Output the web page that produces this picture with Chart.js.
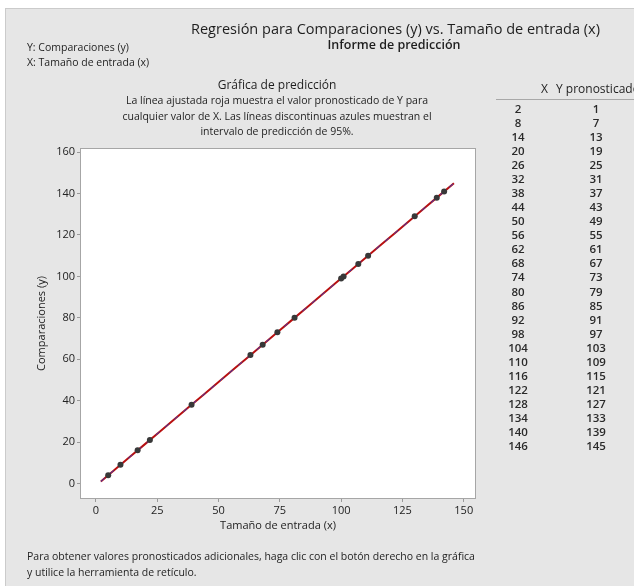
<!DOCTYPE html>
<html lang="es">
<head>
<meta charset="utf-8">
<title>Regresión para Comparaciones (y) vs. Tamaño de entrada (x)</title>
<script src="https://cdn.jsdelivr.net/npm/chart.js@4/dist/chart.umd.min.js"></script>
<style>
  html, body { margin: 0; padding: 0; background: #ffffff; }
  body { width: 634px; height: 586px; position: relative; overflow: hidden;
         font-family: "Open Sans", "Noto Sans", sans-serif; color: #1e1e1e; }
  #panel { position: absolute; left: 5px; top: 8px; width: 629px; height: 578px;
           background: #e6e6e6; border-top: 1px solid #cbcbcb; border-left: 1px solid #cbcbcb;
           box-sizing: border-box; }
  #chart { position: absolute; left: 0; top: 0; }
  .t { position: absolute; white-space: nowrap; }
  .c { text-align: center; }
  #table { position: absolute; left: 496px; top: 81px; width: 138px; height: 380px; }
  #table .rule { position: absolute; left: 0; top: 18px; width: 138px; height: 1px; background: #a8a8a8; }
  .row { position: absolute; font-size: 11.5px; line-height: 14px; font-weight: 600; color: #2a2a2a; text-align: center; width: 40px; }
  .xcol { left: 2px; }
  .ycol { left: 80px; }
</style>
</head>
<body>
<div id="panel"></div>
<canvas id="chart" width="634" height="586"></canvas>

<div class="t c" style="left:183px; width:425px; top:19px; font-size:14.5px; line-height:20px;">Regresión para Comparaciones (y) vs. Tamaño de entrada (x)</div>
<div class="t c" style="left:294px; width:200px; top:36px; font-size:12.5px; line-height:18px; font-weight:600;">Informe de predicción</div>
<div class="t" style="left:27px; top:40px; font-size:10.5px; line-height:15px;">Y: Comparaciones (y)<br>X: Tamaño de entrada (x)</div>

<div class="t c" style="left:127px; width:300px; top:76px; font-size:12px; line-height:18px;">Gráfica de predicción</div>
<div class="t c" style="left:97px; width:360px; top:93px; font-size:10.5px; line-height:15.5px;">La línea ajustada roja muestra el valor pronosticado de Y para<br>cualquier valor de X. Las líneas discontinuas azules muestran el<br>intervalo de predicción de 95%.</div>

<div id="table">
  <div class="t" style="left:45px; top:0px; font-size:12px; line-height:16px;">X</div>
  <div class="t" style="left:60px; top:0px; font-size:12px; line-height:16px;">Y pronosticado</div>
  <div class="rule"></div>
</div>

<div class="t" style="left:27px; top:548px; font-size:10.5px; line-height:16px;">Para obtener valores pronosticados adicionales, haga clic con el botón derecho en la gráfica<br>y utilice la herramienta de retículo.</div>

<script>
// Observed data: input size vs. number of comparisons
const obsX = [5, 10, 17, 22, 39, 63, 68, 74, 81, 100, 101, 107, 111, 130, 139, 142];
const obsY = [4, 9, 16, 21, 38, 62, 67, 73, 80, 99, 100, 106, 110, 129, 138, 141];

// Prediction table: X values and fitted Y
const predX = [2, 8, 14, 20, 26, 32, 38, 44, 50, 56, 62, 68, 74, 80, 86, 92, 98, 104, 110, 116, 122, 128, 134, 140, 146];
const predY = [1, 7, 13, 19, 25, 31, 37, 43, 49, 55, 61, 67, 73, 79, 85, 91, 97, 103, 109, 115, 121, 127, 133, 139, 145];

// 95% prediction interval bounds (coincide with the fit for this data)
const piLower = [1, 7, 13, 19, 25, 31, 37, 43, 49, 55, 61, 67, 73, 79, 85, 91, 97, 103, 109, 115, 121, 127, 133, 139, 145];
const piUpper = [1, 7, 13, 19, 25, 31, 37, 43, 49, 55, 61, 67, 73, 79, 85, 91, 97, 103, 109, 115, 121, 127, 133, 139, 145];

// Axis tick labels
const xTicks = [0, 25, 50, 75, 100, 125, 150];
const yTicks = [0, 20, 40, 60, 80, 100, 120, 140, 160];

// Build the prediction table rows
const table = document.getElementById('table');
predX.forEach((x, i) => {
  const top = 21 + i * 14.04;
  const xc = document.createElement('div');
  xc.className = 'row xcol';
  xc.style.top = top + 'px';
  xc.textContent = x;
  const yc = document.createElement('div');
  yc.className = 'row ycol';
  yc.style.top = top + 'px';
  yc.textContent = predY[i];
  table.appendChild(xc);
  table.appendChild(yc);
});

const toPts = (xs, ys) => xs.map((x, i) => ({ x: x, y: ys[i] }));

// White plotting region with a grey frame
const plotFrame = {
  id: 'plotFrame',
  beforeDraw(chart) {
    const { ctx, chartArea: a } = chart;
    ctx.save();
    ctx.fillStyle = '#ffffff';
    ctx.fillRect(a.left, a.top, a.right - a.left, a.bottom - a.top);
    ctx.restore();
  },
  afterDraw(chart) {
    const { ctx, chartArea: a } = chart;
    ctx.save();
    ctx.strokeStyle = '#a6a6a6';
    ctx.lineWidth = 1;
    ctx.strokeRect(a.left + 0.5, a.top + 0.5, a.right - a.left - 1, a.bottom - a.top - 1);
    ctx.restore();
  }
};

const tickFont = { family: '"Open Sans", "Noto Sans", sans-serif', size: 11 };

new Chart(document.getElementById('chart'), {
  type: 'scatter',
  data: {
    datasets: [
      {
        label: 'Observado',
        data: toPts(obsX, obsY),
        pointRadius: 3,
        pointBackgroundColor: '#383838',
        pointBorderColor: '#383838',
        pointBorderWidth: 0,
        showLine: false
      },
      {
        label: 'IP superior 95%',
        data: toPts(predX, piUpper),
        showLine: true,
        borderColor: 'rgba(50, 60, 190, 0.6)',
        borderWidth: 1,
        borderDash: [5, 7],
        pointRadius: 0
      },
      {
        label: 'IP inferior 95%',
        data: toPts(predX, piLower),
        showLine: true,
        borderColor: 'rgba(50, 60, 190, 0.6)',
        borderWidth: 1,
        borderDash: [5, 7],
        pointRadius: 0
      },
      {
        label: 'Ajuste',
        data: toPts(predX, predY),
        showLine: true,
        borderColor: '#b81010',
        borderWidth: 2,
        pointRadius: 0
      }
    ]
  },
  options: {
    responsive: false,
    animation: false,
    devicePixelRatio: 1,
    layout: { padding: { left: 30, top: 148, right: 158, bottom: 51 } },
    plugins: { legend: { display: false }, tooltip: { enabled: false } },
    scales: {
      x: {
        type: 'linear',
        min: -6.5,
        max: 155,
        afterBuildTicks: (s) => { s.ticks = xTicks.map(v => ({ value: v })); },
        afterFit: (s) => { s.height = 36; },
        grid: { drawOnChartArea: false, drawTicks: true, tickLength: 3, color: '#9a9a9a' },
        border: { display: false },
        ticks: { font: tickFont, color: '#222', padding: 2, maxRotation: 0 },
        title: { display: true, text: 'Tamaño de entrada (x)', font: tickFont, color: '#222', padding: { top: 0, bottom: 3 } }
      },
      y: {
        type: 'linear',
        min: -7.5,
        max: 162,
        afterBuildTicks: (s) => { s.ticks = yTicks.map(v => ({ value: v })); },
        afterFit: (s) => { s.width = 50; },
        grid: { drawOnChartArea: false, drawTicks: true, tickLength: 3, color: '#9a9a9a' },
        border: { display: false },
        ticks: { font: tickFont, color: '#222', padding: 2 },
        title: { display: true, text: 'Comparaciones (y)', font: tickFont, color: '#222', padding: { top: 5, bottom: 0 } }
      }
    }
  },
  plugins: [plotFrame]
});
</script>
</body>
</html>
